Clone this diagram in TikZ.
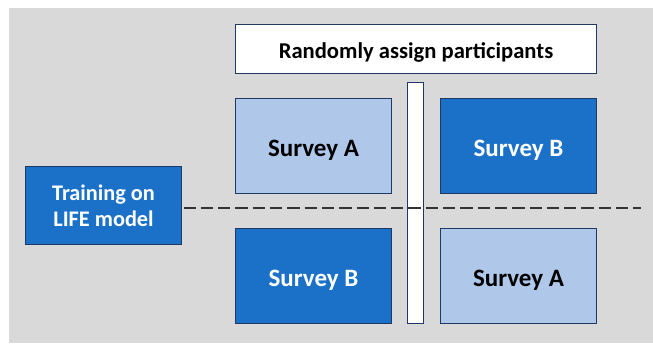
\documentclass[tikz,border=0pt]{standalone}
\usepackage{fontspec}
\setmainfont{Carlito}
\definecolor{bggray}{HTML}{D9D9D9}
\definecolor{darkblue}{HTML}{1B71C8}
\definecolor{lightblue}{HTML}{AFC7E8}
\definecolor{edge}{HTML}{1F3864}
\begin{document}
\begin{tikzpicture}[x=1pt,y=-1pt,
  box/.style={draw=edge,line width=1pt,inner sep=0pt,anchor=north west,align=center,font=\bfseries},
  darkbox/.style={box,fill=darkblue,text=white},
  lightbox/.style={box,fill=lightblue,text=black},
  whitebox/.style={box,fill=white,text=black},
  survey/.style={minimum width=156pt,minimum height=95pt,text height=21pt,text depth=0pt,
    font=\bfseries\fontsize{25}{30}\selectfont}]
\useasboundingbox (0,0) rectangle (653,343);
\fill[bggray] (9,8) rectangle (653,343);
% header
\node[whitebox,minimum width=361pt,minimum height=49pt,text height=18pt,text depth=0pt,
  font=\bfseries\fontsize{22.6}{26}\selectfont] (rand) at (235,24) {Randomly assign participants};
% training box
\node[darkbox,minimum width=156pt,minimum height=78pt,font=\bfseries\fontsize{22.3}{26}\selectfont] (train) at (25,166) {Training on\\LIFE model};
% divider bar
\node[whitebox,minimum width=16pt,minimum height=241pt] (bar) at (407,82) {};
% survey boxes
\node[lightbox,survey] (sa1) at (235,98) {Survey A};
\node[darkbox,survey] (sb1) at (440,98) {Survey B};
\node[darkbox,survey] (sb2) at (235,228) {Survey B};
\node[lightbox,survey] (sa2) at (440,228) {Survey A};
% dashed line across the bar
\coordinate (lineend) at (641,208);
\draw[line width=1.8pt,dash pattern=on 12.3pt off 5pt,dash phase=-1.5pt,black!80] (train.east |- lineend) -- (lineend);
\end{tikzpicture}
\end{document}
